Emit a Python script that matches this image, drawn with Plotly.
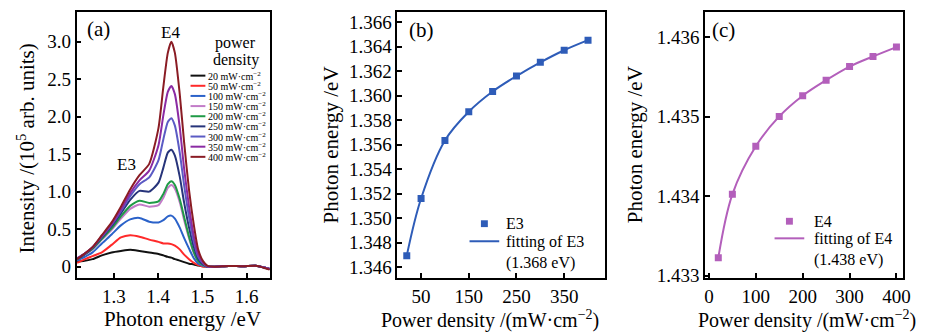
import plotly.graph_objects as go

# ---------------- data ----------------
# Panel (a): PL spectra (intensity in 1e5 arb. units) vs photon energy (eV)
energy = [1.217, 1.231, 1.252, 1.273, 1.295, 1.316, 1.337, 1.358, 1.380, 1.401,
          1.412, 1.422, 1.430, 1.438, 1.449, 1.459, 1.470, 1.481, 1.491, 1.502,
          1.512, 1.528, 1.560, 1.592, 1.624, 1.652]
int_20 = [0.07, 0.075, 0.10, 0.15, 0.19, 0.21, 0.225, 0.21, 0.19, 0.17, 0.15, 0.13, 0.12,
          0.10, 0.08, 0.06, 0.04, 0.03, 0.015, 0.005, 0.0, 0.0, 0.01, 0.005, 0.01, -0.03]
int_50 = [0.05, 0.09, 0.14, 0.19, 0.29, 0.39, 0.42, 0.40, 0.36, 0.33, 0.31, 0.31, 0.30,
          0.28, 0.23, 0.16, 0.10, 0.05, 0.02, 0.0, 0.0, 0.0, 0.01, 0.005, 0.01, -0.03]
int_100 = [0.08, 0.12, 0.19, 0.31, 0.43, 0.55, 0.63, 0.65, 0.60, 0.59, 0.62, 0.67, 0.68,
           0.64, 0.52, 0.38, 0.24, 0.11, 0.04, 0.01, 0.0, 0.0, 0.01, 0.005, 0.01, -0.03]
int_150 = [0.10, 0.15, 0.23, 0.36, 0.49, 0.64, 0.77, 0.83, 0.80, 0.82, 0.92, 1.05, 1.09,
           1.04, 0.86, 0.62, 0.38, 0.18, 0.07, 0.02, 0.0, 0.0, 0.01, 0.005, 0.01, -0.03]
int_200 = [0.10, 0.15, 0.24, 0.37, 0.51, 0.67, 0.81, 0.88, 0.85, 0.87, 0.97, 1.10, 1.14,
           1.09, 0.90, 0.66, 0.40, 0.19, 0.07, 0.02, 0.0, 0.0, 0.01, 0.005, 0.01, -0.03]
int_250 = [0.10, 0.15, 0.25, 0.39, 0.54, 0.71, 0.89, 1.01, 1.00, 1.12, 1.32, 1.52, 1.56,
           1.48, 1.20, 0.85, 0.52, 0.26, 0.10, 0.03, 0.0, 0.0, 0.01, 0.005, 0.01, -0.03]
int_300 = [0.11, 0.16, 0.26, 0.40, 0.56, 0.74, 0.94, 1.10, 1.19, 1.42, 1.70, 1.93, 1.98,
           1.88, 1.52, 1.08, 0.66, 0.33, 0.13, 0.04, 0.0, 0.0, 0.01, 0.005, 0.01, -0.03]
int_350 = [0.11, 0.16, 0.26, 0.41, 0.57, 0.76, 0.98, 1.15, 1.28, 1.62, 2.02, 2.33, 2.41,
           2.30, 1.86, 1.30, 0.80, 0.40, 0.16, 0.05, 0.0, 0.0, 0.01, 0.005, 0.01, -0.03]
int_400 = [0.10, 0.16, 0.26, 0.42, 0.59, 0.80, 1.03, 1.22, 1.37, 1.85, 2.40, 2.85, 3.00,
           2.85, 2.30, 1.65, 1.02, 0.55, 0.22, 0.07, 0.01, 0.0, 0.01, 0.005, 0.01, -0.04]

powers = [20, 50, 100, 150, 200, 250, 300, 350, 400]
spectra = [int_20, int_50, int_100, int_150, int_200, int_250, int_300, int_350, int_400]
spec_colors = ['#111111', '#ff2a2a', '#2b62c9', '#c27cc8', '#1f9a46',
               '#27347a', '#5b5bc4', '#8b2ba3', '#8a1c24']

# Panel (b): E3 peak energy vs power density
e3_energy = [1.34693, 1.35160, 1.35634, 1.35869, 1.36034, 1.36160, 1.36272, 1.36371, 1.36453]
# Panel (c): E4 peak energy vs power density
e4_energy = [1.433224, 1.434023, 1.434627, 1.435002, 1.435263, 1.435458, 1.435629, 1.435756, 1.435874]

# tick labels
a_xticks = [1.3, 1.4, 1.5, 1.6]
a_xticktext = ['1.3', '1.4', '1.5', '1.6']
a_yticks = [0, 0.5, 1.0, 1.5, 2.0, 2.5, 3.0]
a_yticktext = ['0', '0.5', '1.0', '1.5', '2.0', '2.5', '3.0']
b_xticks = [50, 150, 250, 350]
b_yticks = [1.346, 1.348, 1.350, 1.352, 1.354, 1.356, 1.358, 1.360, 1.362, 1.364, 1.366]
b_yticktext = ['1.346', '1.348', '1.350', '1.352', '1.354', '1.356', '1.358',
               '1.360', '1.362', '1.364', '1.366']
c_xticks = [0, 100, 200, 300, 400]
c_yticks = [1.433, 1.434, 1.435, 1.436]
c_yticktext = ['1.433', '1.434', '1.435', '1.436']

# ---------------- styling ----------------
W, H = 935, 333
FONT = 'Liberation Serif'
b_color = '#2e5cb8'
c_color = '#b35fbb'


def px(p):
    return p / W


def py(p):
    return 1 - p / H


fig = go.Figure()

for pw, ys, col in zip(powers, spectra, spec_colors):
    fig.add_trace(go.Scatter(x=energy, y=ys, mode='lines', showlegend=False,
                             line=dict(color=col, width=2, shape='spline', smoothing=0.6),
                             xaxis='x', yaxis='y', name=f'{pw} mW·cm−2'))

fig.add_trace(go.Scatter(x=powers, y=e3_energy, mode='markers', name='E3', showlegend=False,
                         marker=dict(symbol='square', size=7, color=b_color),
                         xaxis='x2', yaxis='y2'))
fig.add_trace(go.Scatter(x=powers, y=e3_energy, mode='lines', showlegend=False,
                         name='fitting of E3 (1.368 eV)',
                         line=dict(color=b_color, width=2, shape='spline', smoothing=1.0),
                         xaxis='x2', yaxis='y2'))
fig.add_trace(go.Scatter(x=powers, y=e4_energy, mode='markers', name='E4', showlegend=False,
                         marker=dict(symbol='square', size=7, color=c_color),
                         xaxis='x3', yaxis='y3'))
fig.add_trace(go.Scatter(x=powers, y=e4_energy, mode='lines', showlegend=False,
                         name='fitting of E4 (1.438 eV)',
                         line=dict(color=c_color, width=2, shape='spline', smoothing=1.0),
                         xaxis='x3', yaxis='y3'))

tickfont = dict(family=FONT, size=19, color='black')
axis_common = dict(showline=True, mirror=True, linecolor='black', linewidth=1.5,
                   ticks='inside', ticklen=5, tickwidth=1.5, tickcolor='black',
                   showgrid=False, zeroline=False, tickfont=tickfont)

ydom = [py(276.7), py(4.5)]

fig.update_layout(
    width=W, height=H, margin=dict(l=0, r=0, t=0, b=0),
    paper_bgcolor='white', plot_bgcolor='white', showlegend=False,
    font=dict(family=FONT, color='black'),
    xaxis=dict(domain=[px(68.3), px(264)], range=[1.216, 1.654],
               tickvals=a_xticks, ticktext=a_xticktext, anchor='y', **axis_common),
    yaxis=dict(domain=ydom, range=[-0.152, 3.39], tickvals=a_yticks,
               ticktext=a_yticktext, anchor='x', **axis_common),
    xaxis2=dict(domain=[px(392), px(602)], range=[0, 436], tickvals=b_xticks,
                anchor='y2', **axis_common),
    yaxis2=dict(domain=ydom, range=[1.3451, 1.3668], tickvals=b_yticks,
                ticktext=b_yticktext, anchor='x2', **axis_common),
    xaxis3=dict(domain=[px(702.7), px(902.7)], range=[-8.5, 414], tickvals=c_xticks,
                anchor='y3', **axis_common),
    yaxis3=dict(domain=ydom, range=[1.43297, 1.43631], tickvals=c_yticks,
                ticktext=c_yticktext, anchor='x3', **axis_common),
)

ann = []


def add_text(text, x, y, size, xanchor='center', yanchor='middle', angle=0):
    ann.append(dict(text=text, x=px(x), y=py(y), xref='paper', yref='paper',
                    showarrow=False, xanchor=xanchor, yanchor=yanchor, textangle=angle,
                    align='left' if xanchor == 'left' else 'center',
                    font=dict(family=FONT, size=size, color='black')))


# axis titles
add_text('Photon energy /eV', 174.7, 318.5, 21)
add_text('Intensity /(10<sup>5</sup> arb. units)', 16.7, 144.5, 21, angle=-90)
add_text('Power density /(mW·cm<sup>−2</sup>)', 486, 319, 20)
add_text('Photon energy /eV', 325, 140, 21, angle=-90)
add_text('Power density /(mW·cm<sup>−2</sup>)', 806, 319, 20)
add_text('Photon energy /eV', 631.7, 140, 21, angle=-90)

# panel labels
add_text('(a)', 77, 22, 21, xanchor='left')
add_text('(b)', 402, 23, 21, xanchor='left')
add_text('(c)', 708, 23, 21, xanchor='left')

# peak labels
add_text('E4', 163, 25, 17)
add_text('E3', 119, 160, 17)

shapes = []

# legend of panel (a)
add_text('power', 229, 36, 16)
add_text('density', 229, 53, 16)
for i, (pw, col) in enumerate(zip(powers, spec_colors)):
    yy = 69.3 + i * 10.4
    shapes.append(dict(type='line', xref='paper', yref='paper',
                       x0=px(183.3), x1=px(198.3), y0=py(yy), y1=py(yy),
                       line=dict(color=col, width=2)))
    add_text(f'{pw} mW·cm<sup>−2</sup>', 199.3, yy, 10, xanchor='left')


# legends of panels (b) and (c)
def side_legend(col, sym_x, y_mark, line_x0, line_x1, y_line, text_x, name, fit_text):
    shapes.append(dict(type='rect', xref='paper', yref='paper',
                       x0=px(sym_x - 3.5), x1=px(sym_x + 3.5),
                       y0=py(y_mark + 3.5), y1=py(y_mark - 3.5),
                       fillcolor=col, line=dict(width=0)))
    add_text(name, text_x, y_mark, 16, xanchor='left')
    shapes.append(dict(type='line', xref='paper', yref='paper',
                       x0=px(line_x0), x1=px(line_x1), y0=py(y_line), y1=py(y_line),
                       line=dict(color=col, width=2)))
    add_text(fit_text, text_x, y_line - 11, 16, xanchor='left', yanchor='top')


side_legend(b_color, 480, 221, 465, 495, 239, 500, 'E3', 'fitting of E3<br>(1.368 eV)')
side_legend(c_color, 788, 218.5, 773, 803, 236, 811, 'E4', 'fitting of E4<br>(1.438 eV)')

fig.update_layout(annotations=ann, shapes=shapes)

fig.write_html('out.html')
